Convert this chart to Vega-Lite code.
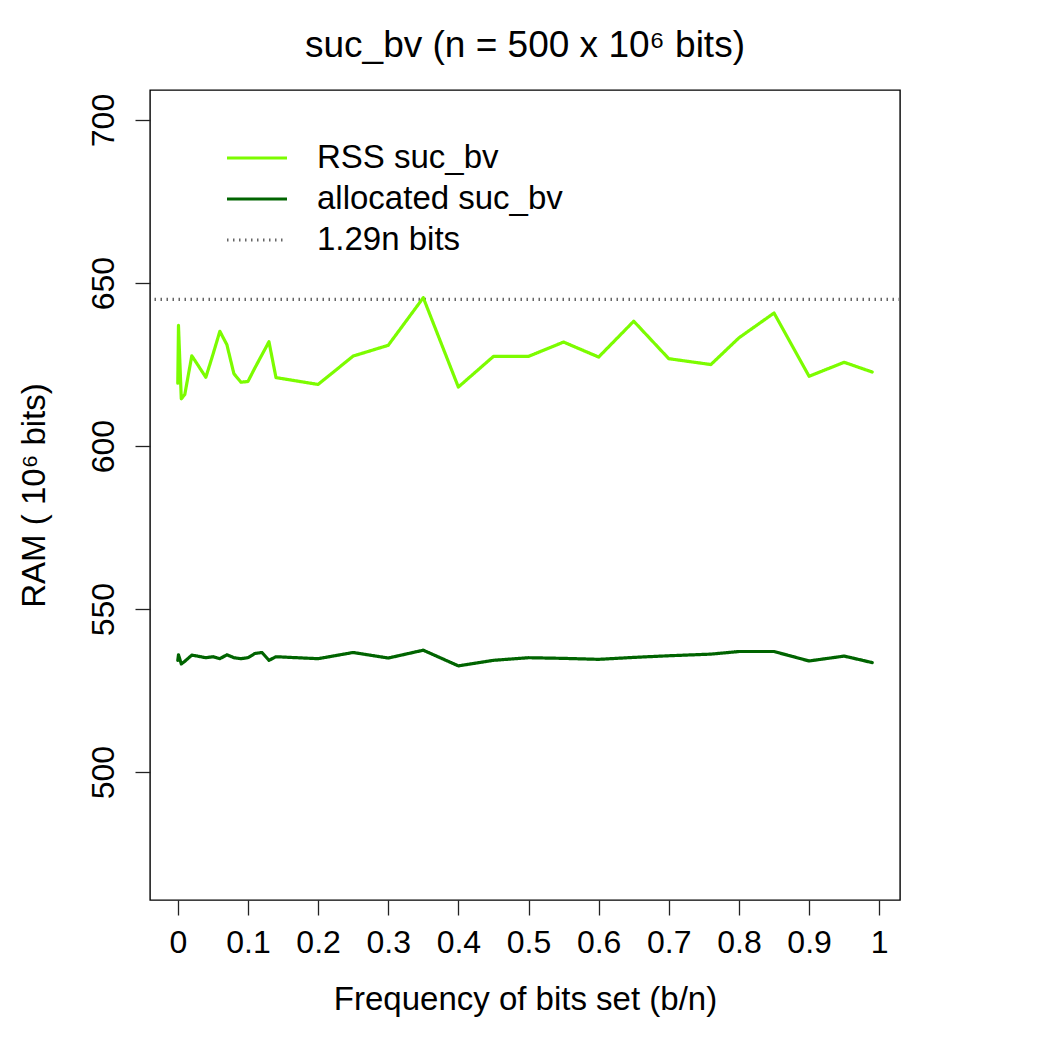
{
  "$schema": "https://vega.github.io/schema/vega-lite/v6.json",
  "autosize": {"type": "none"},
  "padding": {"left": 150, "top": 90, "right": 150, "bottom": 150},
  "width": 750,
  "height": 810,
  "background": "white",
  "config": {
    "font": "Liberation Sans",
    "view": {"stroke": "#000000", "strokeWidth": 1.4},
    "axis": {"grid": false, "domain": false, "tickColor": "#222222", "tickSize": 15, "tickWidth": 1.3, "labelColor": "#000000", "titleColor": "#000000", "labelFontSize": 32, "titleFontSize": 33, "titleFontWeight": "normal", "labelFont": "Liberation Sans", "titleFont": "Liberation Sans"}
  },
  "title": {"text": "suc_bv (n = 500 x 10⁶ bits)", "fontSize": 37, "fontWeight": "normal", "font": "Liberation Sans", "color": "#000000", "offset": 25, "anchor": "middle"},
  "datasets": {
    "series": [
      {"series": "RSS suc_bv", "x": 0, "y": 619.3},
      {"series": "RSS suc_bv", "x": 0.001, "y": 637},
      {"series": "RSS suc_bv", "x": 0.005, "y": 614.5},
      {"series": "RSS suc_bv", "x": 0.01, "y": 615.8},
      {"series": "RSS suc_bv", "x": 0.02, "y": 627.7},
      {"series": "RSS suc_bv", "x": 0.04, "y": 621.1},
      {"series": "RSS suc_bv", "x": 0.05, "y": 628},
      {"series": "RSS suc_bv", "x": 0.06, "y": 635.2},
      {"series": "RSS suc_bv", "x": 0.07, "y": 631.1},
      {"series": "RSS suc_bv", "x": 0.08, "y": 622.2},
      {"series": "RSS suc_bv", "x": 0.09, "y": 619.6},
      {"series": "RSS suc_bv", "x": 0.1, "y": 619.8},
      {"series": "RSS suc_bv", "x": 0.11, "y": 624},
      {"series": "RSS suc_bv", "x": 0.12, "y": 628},
      {"series": "RSS suc_bv", "x": 0.13, "y": 632},
      {"series": "RSS suc_bv", "x": 0.14, "y": 621},
      {"series": "RSS suc_bv", "x": 0.2, "y": 618.9},
      {"series": "RSS suc_bv", "x": 0.25, "y": 627.6},
      {"series": "RSS suc_bv", "x": 0.3, "y": 630.9},
      {"series": "RSS suc_bv", "x": 0.35, "y": 645.5},
      {"series": "RSS suc_bv", "x": 0.4, "y": 618.1},
      {"series": "RSS suc_bv", "x": 0.45, "y": 627.5},
      {"series": "RSS suc_bv", "x": 0.5, "y": 627.5},
      {"series": "RSS suc_bv", "x": 0.55, "y": 631.9},
      {"series": "RSS suc_bv", "x": 0.6, "y": 627.3},
      {"series": "RSS suc_bv", "x": 0.65, "y": 638.3},
      {"series": "RSS suc_bv", "x": 0.7, "y": 626.8},
      {"series": "RSS suc_bv", "x": 0.76, "y": 625.0},
      {"series": "RSS suc_bv", "x": 0.8, "y": 633.2},
      {"series": "RSS suc_bv", "x": 0.85, "y": 640.8},
      {"series": "RSS suc_bv", "x": 0.9, "y": 621.4},
      {"series": "RSS suc_bv", "x": 0.95, "y": 625.7},
      {"series": "RSS suc_bv", "x": 0.99, "y": 622.7},
      {"series": "allocated suc_bv", "x": 0, "y": 534.3},
      {"series": "allocated suc_bv", "x": 0.001, "y": 536},
      {"series": "allocated suc_bv", "x": 0.005, "y": 533.2},
      {"series": "allocated suc_bv", "x": 0.01, "y": 534},
      {"series": "allocated suc_bv", "x": 0.02, "y": 535.9},
      {"series": "allocated suc_bv", "x": 0.04, "y": 535.1},
      {"series": "allocated suc_bv", "x": 0.05, "y": 535.4},
      {"series": "allocated suc_bv", "x": 0.06, "y": 534.8},
      {"series": "allocated suc_bv", "x": 0.07, "y": 536},
      {"series": "allocated suc_bv", "x": 0.08, "y": 535.1},
      {"series": "allocated suc_bv", "x": 0.09, "y": 534.8},
      {"series": "allocated suc_bv", "x": 0.1, "y": 535.1},
      {"series": "allocated suc_bv", "x": 0.11, "y": 536.4},
      {"series": "allocated suc_bv", "x": 0.12, "y": 536.7},
      {"series": "allocated suc_bv", "x": 0.13, "y": 534.3},
      {"series": "allocated suc_bv", "x": 0.14, "y": 535.4},
      {"series": "allocated suc_bv", "x": 0.2, "y": 534.8},
      {"series": "allocated suc_bv", "x": 0.25, "y": 536.7},
      {"series": "allocated suc_bv", "x": 0.3, "y": 535.0},
      {"series": "allocated suc_bv", "x": 0.35, "y": 537.4},
      {"series": "allocated suc_bv", "x": 0.4, "y": 532.6},
      {"series": "allocated suc_bv", "x": 0.45, "y": 534.3},
      {"series": "allocated suc_bv", "x": 0.5, "y": 535.1},
      {"series": "allocated suc_bv", "x": 0.55, "y": 534.9},
      {"series": "allocated suc_bv", "x": 0.6, "y": 534.6},
      {"series": "allocated suc_bv", "x": 0.65, "y": 535.2},
      {"series": "allocated suc_bv", "x": 0.7, "y": 535.7},
      {"series": "allocated suc_bv", "x": 0.76, "y": 536.2},
      {"series": "allocated suc_bv", "x": 0.8, "y": 537.0},
      {"series": "allocated suc_bv", "x": 0.85, "y": 537.0},
      {"series": "allocated suc_bv", "x": 0.9, "y": 534.1},
      {"series": "allocated suc_bv", "x": 0.95, "y": 535.6},
      {"series": "allocated suc_bv", "x": 0.99, "y": 533.6}
    ],
    "ref": [{"series": "1.29n bits", "y": 645}]
  },
  "layer": [
    {
      "data": {"name": "ref"},
      "mark": {"type": "rule"},
      "encoding": {
        "y": {"field": "y", "type": "quantitative", "scale": {"domain": [460.8, 709.2], "nice": false, "zero": false}},
        "color": {"field": "series", "type": "nominal"},
        "strokeDash": {"field": "series", "type": "nominal"},
        "strokeWidth": {"field": "series", "type": "nominal"}
      }
    },
    {
      "data": {"name": "series"},
      "mark": {"type": "line", "strokeJoin": "round", "strokeCap": "round"},
      "encoding": {
        "x": {"field": "x", "type": "quantitative", "title": "Frequency of bits set (b/n)",
              "scale": {"domain": [-0.0396, 1.0296], "nice": false, "zero": false},
              "axis": {"values": [0, 0.1, 0.2, 0.3, 0.4, 0.5, 0.6, 0.7, 0.8, 0.9, 1], "format": "~g", "labelPadding": 12, "titlePadding": 25, "labelFlush": false}},
        "y": {"field": "y", "type": "quantitative", "title": "RAM ( 10⁶ bits)",
              "scale": {"domain": [460.8, 709.2], "nice": false, "zero": false},
              "axis": {"values": [500, 550, 600, 650, 700], "labelAngle": -90, "labelAlign": "center", "labelBaseline": "alphabetic", "labelPadding": 22, "titlePadding": 36, "labelFlush": false}},
        "color": {"field": "series", "type": "nominal",
                  "scale": {"domain": ["RSS suc_bv", "allocated suc_bv", "1.29n bits"], "range": ["#7CFC00", "#006400", "#666666"]},
                  "legend": {"title": null, "orient": "none", "legendX": 75, "legendY": 51, "symbolType": "M-1,0L3,0", "symbolSize": 900, "symbolStrokeWidth": 3, "labelFontSize": 33, "labelFont": "Liberation Sans", "labelColor": "#000000", "labelOffset": 58, "rowPadding": 7, "padding": 0, "labelLimit": 400}},
        "strokeDash": {"field": "series", "type": "nominal",
                       "scale": {"domain": ["RSS suc_bv", "allocated suc_bv", "1.29n bits"], "range": [[1, 0], [1, 0], [1.5, 4.5]]}},
        "strokeWidth": {"field": "series", "type": "nominal",
                        "scale": {"domain": ["RSS suc_bv", "allocated suc_bv", "1.29n bits"], "range": [3.2, 3.2, 1.1]}}
      }
    }
  ]
}
